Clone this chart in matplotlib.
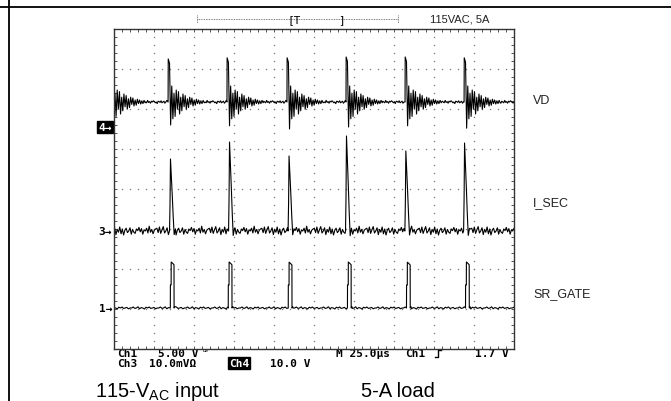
"""
Scope capture: VD, I_SEC and SR_GATE at 115VAC, 5A load.
Screen is 10 x 8 divisions, 25 us/div, traces in divisions.
"""

import numpy as np
import matplotlib
matplotlib.use('Agg')
import matplotlib.pyplot as plt
from matplotlib.ticker import MultipleLocator

W, H = 671, 402

# ---- values (time in us, level in divisions) ----
VD_SPIKE_US = [-3.1, 33.8, 70.6, 108.1, 145.0, 181.9, 218.8]
VD_PEAK_DIV = [3.25, 3.25, 3.28, 3.28, 3.30, 3.30, 3.28]
VD_TROUGH_DIV = [1.55, 1.60, 1.58, 1.50, 1.55, 1.58, 1.52]
VD_BASE_DIV = 2.175
VD_RING_DIV = [0.40, -0.42, 0.22, -0.36, 0.30, -0.18, 0.26, -0.30, 0.12, -0.22,
               0.20, -0.12, 0.16, -0.18, 0.08, -0.14, 0.12, -0.06, 0.10, -0.10,
               0.05, -0.08, 0.07, -0.04, 0.05, -0.05, 0.03, -0.04, 0.04, -0.02]
VD_NOISE_DIV = [0.02, -0.03, 0.00, 0.04, -0.02, 0.01, -0.04, 0.02, 0.03, -0.01,
                -0.03, 0.02, 0.00, -0.02, 0.04, -0.01, 0.01, -0.03, 0.02, 0.00,
                0.03, 0.01, -0.02, 0.00, -0.04, 0.02, 0.01, -0.01, 0.03, -0.02,
                0.00]

ISEC_PULSE_US = [35.0, 71.9, 109.1, 145.0, 182.1, 218.8]
ISEC_PEAK_DIV = [0.75, 1.175, 0.825, 1.325, 0.95, 1.15]
ISEC_BASE_DIV = -1.05
ISEC_SHAPE_US = [-0.3, 0.0, 0.3, 0.8, 1.4, 2.0, 2.6, 3.4]
ISEC_SHAPE_FRAC = [0.0, 0.35, 1.0, 0.78, 0.5, 0.2, -0.05, 0.03]
ISEC_NOISE_DIV = [0.07, -0.04, 0.10, -0.06, 0.03, 0.11, -0.05, 0.00, 0.08, -0.09,
                  0.04, -0.03, 0.10, -0.07, 0.05, -0.10, 0.02, 0.07, -0.04, 0.00,
                  0.08, -0.08, 0.04, -0.03, -0.06, 0.05, 0.01, 0.09, -0.02, 0.06,
                  -0.08, 0.03, 0.00, 0.07, -0.05, 0.12, -0.03, 0.04, -0.07, 0.02,
                  0.05]

GATE_RISE_US = [35.2, 71.4, 108.9, 145.9, 182.8, 219.7]
GATE_HIGH_DIV = [-1.825, -1.825, -1.83, -1.825, -1.83, -1.825]
GATE_BASE_DIV = -2.975
GATE_SHAPE_US = [0.0, 0.05, 0.5, 0.55, 1.5, 2.3, 2.35, 2.8]
GATE_SHAPE_FRAC = [0.0, 0.5, 0.5, 1.0, 0.97, 0.94, 0.0, 0.03]
GATE_NOISE_DIV = [0.00, 0.025, -0.01, 0.00, 0.03, -0.02, 0.01, 0.00, -0.025,
                  0.02, 0.00, 0.025, -0.01, 0.00, 0.015, -0.02, 0.00]


def build_trace(base, noise, events, step=0.6):
    """Quiet noisy baseline with the pulse shapes dropped in."""
    windows = [(et[0], et[-1]) for et, _ in events]
    ts, ys = [], []
    t, i = -6.0, 0
    while t < 253:
        if not any(a - 0.2 <= t <= b + 0.2 for a, b in windows):
            ts.append(t)
            ys.append(base + noise[i % len(noise)])
        t += step
        i += 1
    for et, ey in events:
        ts.extend(et)
        ys.extend(ey)
    order = np.argsort(ts)
    return np.array(ts)[order], np.array(ys)[order]


def vd_events():
    ev = []
    for t0, pk, tr in zip(VD_SPIKE_US, VD_PEAK_DIV, VD_TROUGH_DIV):
        et = [t0, t0 + 0.1, t0 + 0.9, t0 + 1.6]
        ey = [VD_BASE_DIV, pk, VD_BASE_DIV + (pk - VD_BASE_DIV) * 0.9, tr]
        for k, r in enumerate(VD_RING_DIV):
            et.append(t0 + 2.3 + 0.7 * k)
            ey.append(VD_BASE_DIV + r)
        ev.append((et, ey))
    return ev


def shaped_events(starts, peaks, base, shape_t, shape_f):
    ev = []
    for t0, pk in zip(starts, peaks):
        amp = pk - base
        ev.append(([t0 + s for s in shape_t], [base + f * amp for f in shape_f]))
    return ev


fig = plt.figure(figsize=(W / 100, H / 100), dpi=100)

# overlay in pixel coordinates for the page furniture
ov = fig.add_axes([0, 0, 1, 1])
ov.set_xlim(0, W)
ov.set_ylim(H, 0)
ov.axis('off')

ov.plot([0, W], [8, 8], color='black', lw=1.3)
ov.plot([9, 9], [0, H], color='black', lw=1.3)

# scope screen
ax = fig.add_axes([114 / W, 1 - 350 / H, 400 / W, 320 / H])
ax.set_xlim(0, 250)
ax.set_ylim(-4, 4)
ax.set_facecolor('white')
for sp in ax.spines.values():
    sp.set_color('#333333')
    sp.set_linewidth(1.0)
ax.xaxis.set_major_locator(MultipleLocator(25))
ax.xaxis.set_minor_locator(MultipleLocator(5))
ax.yaxis.set_major_locator(MultipleLocator(1))
ax.yaxis.set_minor_locator(MultipleLocator(0.2))
ax.tick_params(which='both', direction='in', length=2.2, width=0.7,
               color='#555555', top=True, right=True,
               labelbottom=False, labelleft=False)

minor_t = np.arange(0, 250.01, 5)
minor_y = np.arange(-4, 4.01, 0.2)
dot = dict(ls='none', marker='s', ms=0.9, mew=0, color='#777777')
for xm in np.arange(25, 250, 25):
    ax.plot(np.full_like(minor_y, xm), minor_y, **dot)
for ym in range(-3, 4):
    ax.plot(minor_t, np.full_like(minor_t, ym), **dot)

t_vd, y_vd = build_trace(VD_BASE_DIV, VD_NOISE_DIV, vd_events())
t_is, y_is = build_trace(ISEC_BASE_DIV, ISEC_NOISE_DIV,
                         shaped_events(ISEC_PULSE_US, ISEC_PEAK_DIV, ISEC_BASE_DIV,
                                       ISEC_SHAPE_US, ISEC_SHAPE_FRAC), step=0.8)
t_gt, y_gt = build_trace(GATE_BASE_DIV, GATE_NOISE_DIV,
                         shaped_events(GATE_RISE_US, GATE_HIGH_DIV, GATE_BASE_DIV,
                                       GATE_SHAPE_US, GATE_SHAPE_FRAC), step=1.0)
for tt, yy in [(t_vd, y_vd), (t_is, y_is), (t_gt, y_gt)]:
    ax.plot(tt, yy, color='black', lw=0.8)

# channel ground markers
mono = dict(family='DejaVu Sans Mono', fontsize=8, va='center')
ov.text(112, 128, "4\u2192", ha='right', color='white', weight='bold',
        bbox=dict(boxstyle='square,pad=0.1', fc='black', ec='black'), **mono)
ov.text(112, 232, "3\u2192", ha='right', color='black', weight='bold', **mono)
ov.text(112, 309, "1\u2192", ha='right', color='black', weight='bold', **mono)
ov.text(513, 293, "\u2190", ha='right', color='black', weight='bold', **mono)

# status lines under the screen
ov.text(117, 354, "Ch1", weight='bold', **mono)
ov.text(158, 354, "5.00 V", weight='bold', **mono)
ov.text(203, 351, "Bw", family='DejaVu Sans Mono', fontsize=3.5, va='center')
ov.text(117, 364, "Ch3", weight='bold', **mono)
ov.text(149, 364, "10.0mV\u03a9", weight='bold', **mono)
ov.text(229, 364, "Ch4", color='white', weight='bold',
        bbox=dict(boxstyle='square,pad=0.1', fc='black', ec='black'), **mono)
ov.text(270, 364, "10.0 V", weight='bold', **mono)
ov.text(336, 354, "M 25.0\u00b5s", weight='bold', **mono)
ov.text(405, 354, "Ch1", weight='bold', **mono)
ov.plot([435, 438, 438, 441], [358, 358, 351, 351], color='black', lw=1.0)
ov.text(475, 354, "1.7 V", weight='bold', **mono)

# trigger position bracket on top
ov.plot([197, 398], [20, 20], color='#555555', lw=0.6, ls=(0, (1, 1)))
ov.plot([197, 197], [16, 24], color='#555555', lw=0.6, ls=(0, (1, 1)))
ov.plot([398, 398], [16, 24], color='#555555', lw=0.6, ls=(0, (1, 1)))
ov.text(287, 20, "[T", **mono)
ov.text(338, 20, "]", **mono)

sans = dict(family='Liberation Sans', color='#222222', va='center')
ov.text(430, 20, "115VAC, 5A", fontsize=8, **sans)
ov.text(533, 101, "VD", fontsize=9, **sans)
ov.text(533, 203, "I_SEC", fontsize=9, **sans)
ov.text(533, 294, "SR_GATE", fontsize=9, **sans)

plt.rcParams['mathtext.fontset'] = 'custom'
plt.rcParams['mathtext.rm'] = 'Liberation Sans'
ov.text(95, 397, r"115-V$_{\mathrm{AC}}$ input", fontsize=14.5, family='Liberation Sans',
        color='black', va='baseline')
ov.text(361, 397, "5-A load", fontsize=14.5, family='Liberation Sans',
        color='black', va='baseline')

fig.savefig('out.png', dpi=100)
